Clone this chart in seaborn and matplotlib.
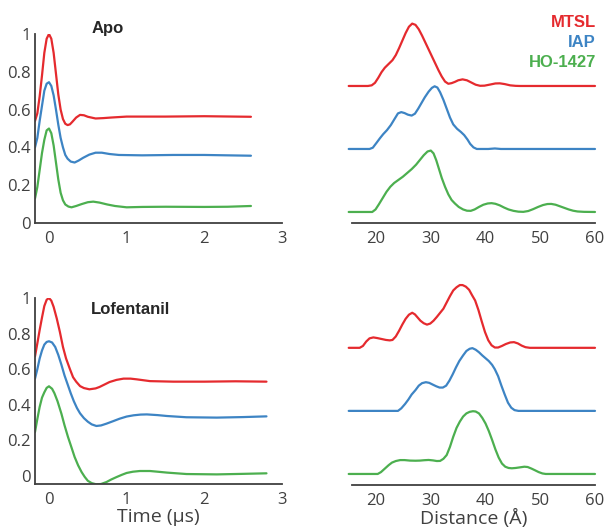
"""
DEER traces and distance distributions for three spin labels,
apo vs lofentanil-bound receptor.

Run:
    python plot.py
"""

import matplotlib.pyplot as plt
import seaborn as sns

# -----------------------------
# Data
# -----------------------------
LABELS = ["MTSL", "IAP", "HO-1427"]
COLORS = ["#e52a2e", "#3d84c4", "#4caf4f"]

# Apo, time domain (us, normalised echo)
APO_MTSL_T = [-0.18, -0.15, -0.12, -0.09, -0.06, -0.03, 0.0, 0.03, 0.06, 0.09, 0.12, 0.15,
              0.18, 0.21, 0.24, 0.27, 0.3, 0.35, 0.4, 0.45, 0.5, 0.6, 0.7, 0.8, 1.0, 1.5, 2.0, 2.6]
APO_MTSL_V = [0.54, 0.58, 0.67, 0.78, 0.9, 0.975, 1.0, 0.975, 0.9, 0.79, 0.68, 0.6,
              0.55, 0.525, 0.518, 0.522, 0.535, 0.558, 0.572, 0.57, 0.562, 0.553, 0.555, 0.558,
              0.563, 0.563, 0.565, 0.562]
APO_IAP_T = [-0.18, -0.15, -0.12, -0.09, -0.06, -0.03, 0.0, 0.03, 0.06, 0.09, 0.12, 0.15, 0.18,
             0.21, 0.24, 0.28, 0.33, 0.38, 0.44, 0.52, 0.6, 0.68, 0.78, 0.9, 1.2, 1.6, 2.0, 2.6]
APO_IAP_V = [0.4, 0.45, 0.54, 0.62, 0.7, 0.737, 0.745, 0.725, 0.675, 0.6, 0.52, 0.45, 0.4,
             0.36, 0.34, 0.325, 0.32, 0.33, 0.345, 0.362, 0.372, 0.372, 0.365, 0.36, 0.358,
             0.36, 0.36, 0.356]
APO_HO_T = [-0.18, -0.15, -0.12, -0.09, -0.06, -0.03, 0.0, 0.03, 0.06, 0.09, 0.12, 0.15, 0.18,
            0.21, 0.25, 0.29, 0.35, 0.42, 0.5, 0.57, 0.65, 0.75, 0.85, 1.0, 1.2, 1.5, 2.0, 2.3, 2.6]
APO_HO_V = [0.13, 0.19, 0.28, 0.37, 0.44, 0.49, 0.5, 0.475, 0.41, 0.32, 0.23, 0.16, 0.12,
            0.098, 0.087, 0.083, 0.09, 0.1, 0.11, 0.113, 0.108, 0.098, 0.09, 0.083, 0.085,
            0.086, 0.085, 0.086, 0.09]

# Lofentanil, time domain
LOF_MTSL_T = [-0.18, -0.15, -0.12, -0.09, -0.06, -0.03, 0.0, 0.03, 0.06, 0.1, 0.14, 0.18, 0.22,
              0.27, 0.31, 0.35, 0.4, 0.45, 0.52, 0.6, 0.65, 0.72, 0.78, 0.87, 0.96, 1.05, 1.13,
              1.3, 1.6, 2.0, 2.4, 2.8]
LOF_MTSL_V = [0.672, 0.745, 0.82, 0.89, 0.955, 0.99, 1.0, 0.985, 0.95, 0.885, 0.81, 0.725, 0.66,
              0.6, 0.555, 0.53, 0.505, 0.494, 0.487, 0.492, 0.5, 0.515, 0.528, 0.54, 0.547,
              0.547, 0.543, 0.533, 0.53, 0.53, 0.532, 0.53]
LOF_IAP_T = [-0.18, -0.15, -0.12, -0.09, -0.06, -0.03, 0.0, 0.04, 0.08, 0.12, 0.16, 0.2, 0.24,
             0.28, 0.32, 0.36, 0.4, 0.45, 0.5, 0.55, 0.61, 0.67, 0.74, 0.82, 0.91, 1.0, 1.09,
             1.18, 1.26, 1.4, 1.52, 1.77, 2.16, 2.5, 2.8]
LOF_IAP_V = [0.547, 0.6, 0.66, 0.705, 0.738, 0.753, 0.757, 0.75, 0.725, 0.68, 0.625, 0.565,
             0.515, 0.465, 0.42, 0.382, 0.352, 0.325, 0.305, 0.29, 0.281, 0.284, 0.294, 0.307,
             0.322, 0.334, 0.341, 0.345, 0.346, 0.342, 0.337, 0.33, 0.328, 0.331, 0.335]
LOF_HO_T = [-0.18, -0.15, -0.12, -0.09, -0.06, -0.03, 0.0, 0.04, 0.07, 0.11, 0.16, 0.2, 0.245,
            0.29, 0.33, 0.375, 0.42, 0.46, 0.5, 0.55, 0.61, 0.67, 0.74, 0.8, 0.87, 0.94, 1.0,
            1.08, 1.17, 1.3, 1.4, 1.52, 1.77, 2.16, 2.5, 2.8]
LOF_HO_V = [0.247, 0.32, 0.388, 0.44, 0.47, 0.495, 0.504, 0.49, 0.465, 0.42, 0.35, 0.285,
            0.219, 0.16, 0.107, 0.06, 0.022, -0.005, -0.027, -0.04, -0.047, -0.045, -0.034,
            -0.02, -0.006, 0.007, 0.017, 0.024, 0.028, 0.028, 0.024, 0.019, 0.011, 0.009,
            0.012, 0.015]

# Apo, distance distributions (Angstrom, peak-normalised)
APO_MTSL_R = [15, 18.5, 19.2, 19.8, 20.4, 21.0, 21.6, 22.3, 23.0, 23.6, 24.2, 24.8, 25.4, 26.0,
              26.6, 27.2, 27.8, 28.4, 29.0, 29.6, 30.2, 30.8, 31.4, 32.0, 32.6, 33.2, 33.8,
              34.4, 35.0, 35.8, 36.6, 37.4, 38.2, 39.0, 39.8, 40.8, 41.8, 42.6, 43.5, 44.5,
              45.5, 46.3, 60]
APO_MTSL_P = [0, 0, 0.01, 0.05, 0.13, 0.22, 0.29, 0.35, 0.41, 0.49, 0.6, 0.72, 0.84, 0.94,
              0.99, 0.97, 0.9, 0.8, 0.69, 0.58, 0.47, 0.36, 0.25, 0.15, 0.07, 0.035, 0.045,
              0.065, 0.09, 0.105, 0.09, 0.055, 0.02, 0.003, 0.005, 0.022, 0.04, 0.042, 0.03,
              0.01, 0.002, 0, 0]
APO_IAP_R = [15, 18.8, 19.4, 20.1, 20.7, 21.3, 22.0, 22.7, 23.4, 24.0, 24.6, 25.2, 25.8, 26.5,
             27.1, 27.7, 28.3, 28.9, 29.6, 30.2, 30.7, 31.2, 31.7, 32.3, 32.9, 33.5, 34.1,
             34.8, 35.5, 36.1, 36.7, 37.2, 37.8, 38.4, 40.5, 41.7, 42.8, 60]
APO_IAP_P = [0, 0, 0.02, 0.1, 0.17, 0.235, 0.3, 0.38, 0.48, 0.565, 0.585, 0.57, 0.545, 0.53,
             0.56, 0.64, 0.73, 0.82, 0.91, 0.97, 0.995, 0.975, 0.9, 0.78, 0.64, 0.5, 0.39,
             0.32, 0.27, 0.22, 0.15, 0.08, 0.025, 0, 0, 0.008, 0, 0]
APO_HO_R = [15, 19.3, 19.9, 20.5, 21.2, 21.9, 22.6, 23.3, 24.1, 24.9, 25.7, 26.5, 27.3, 28.0,
            28.7, 29.4, 30.0, 30.5, 31.0, 31.5, 32.0, 32.6, 33.2, 33.8, 34.4, 35.1, 35.9, 36.6,
            37.3, 38.0, 38.8, 39.6, 40.4, 41.1, 41.8, 42.6, 43.4, 44.2, 45.1, 46.0, 46.9, 47.8,
            48.7, 49.6, 50.5, 51.3, 52.0, 52.8, 53.6, 54.4, 55.2, 56.0, 56.8, 58, 60]
APO_HO_P = [0, 0, 0.04, 0.12, 0.22, 0.32, 0.4, 0.46, 0.51, 0.56, 0.62, 0.68, 0.75, 0.825,
            0.9, 0.96, 0.975, 0.93, 0.82, 0.68, 0.54, 0.4, 0.28, 0.19, 0.135, 0.08, 0.04,
            0.02, 0.018, 0.04, 0.08, 0.115, 0.135, 0.14, 0.13, 0.105, 0.07, 0.04, 0.018,
            0.005, 0.002, 0.015, 0.045, 0.08, 0.11, 0.126, 0.128, 0.115, 0.09, 0.065, 0.04,
            0.02, 0.008, 0.002, 0]

# Lofentanil, distance distributions
LOF_MTSL_R = [15, 17.0, 17.6, 18.2, 18.8, 19.5, 20.2, 21.0, 21.8, 22.5, 23.0, 23.6, 24.2, 24.8,
              25.4, 26.0, 26.6, 27.1, 27.6, 28.1, 28.7, 29.3, 29.9, 30.5, 31.1, 31.7, 32.3,
              32.9, 33.5, 34.1, 34.7, 35.3, 35.8, 36.4, 37.0, 37.5, 38.1, 38.7, 39.3, 39.9,
              40.5, 41.1, 41.7, 42.3, 43.0, 43.7, 44.5, 45.2, 45.9, 46.6, 47.3, 48.1, 60]
LOF_MTSL_P = [0, 0, 0.03, 0.1, 0.15, 0.165, 0.155, 0.14, 0.125, 0.118, 0.125, 0.18, 0.27,
              0.37, 0.46, 0.525, 0.556, 0.53, 0.48, 0.43, 0.39, 0.368, 0.385, 0.43, 0.49,
              0.555, 0.62, 0.72, 0.82, 0.91, 0.96, 0.995, 0.995, 0.97, 0.92, 0.84, 0.75, 0.6,
              0.42, 0.25, 0.12, 0.04, 0.005, 0.005, 0.03, 0.06, 0.085, 0.09, 0.07, 0.035,
              0.01, 0, 0]
LOF_IAP_R = [15, 24.0, 24.6, 25.3, 25.9, 26.5, 27.2, 27.8, 28.4, 29.1, 29.7, 30.4, 31.0, 31.6,
             32.2, 32.8, 33.4, 34.0, 34.6, 35.2, 35.9, 36.5, 37.1, 37.6, 38.2, 38.8, 39.4,
             40.0, 40.6, 41.2, 41.7, 42.3, 42.9, 43.5, 44.1, 44.7, 45.3, 46.0, 60]
LOF_IAP_P = [0, 0, 0.04, 0.11, 0.18, 0.26, 0.33, 0.4, 0.44, 0.455, 0.445, 0.415, 0.39, 0.37,
             0.37, 0.4, 0.48, 0.58, 0.69, 0.79, 0.88, 0.95, 0.985, 0.995, 0.97, 0.93, 0.88,
             0.835, 0.79, 0.73, 0.66, 0.55, 0.4, 0.26, 0.13, 0.05, 0.012, 0, 0]
LOF_HO_R = [15, 20.3, 20.9, 21.6, 22.3, 22.9, 23.6, 24.4, 25.2, 26.2, 27.2, 28.0, 28.8, 29.6,
            30.4, 31.1, 31.7, 32.3, 32.9, 33.5, 34.1, 34.7, 35.3, 35.9, 36.5, 37.1, 37.7,
            38.2, 38.8, 39.4, 40.0, 40.6, 41.2, 41.8, 42.4, 43.0, 43.6, 44.2, 44.8, 45.5,
            46.3, 47.1, 47.7, 48.4, 49.0, 49.7, 50.4, 51.0, 60]
LOF_HO_P = [0, 0, 0.03, 0.085, 0.14, 0.18, 0.205, 0.22, 0.22, 0.212, 0.21, 0.212, 0.218,
            0.222, 0.215, 0.205, 0.207, 0.24, 0.3, 0.43, 0.59, 0.73, 0.83, 0.91, 0.96, 0.985,
            0.995, 0.99, 0.96, 0.89, 0.8, 0.68, 0.54, 0.39, 0.26, 0.165, 0.115, 0.095, 0.09,
            0.095, 0.105, 0.115, 0.11, 0.085, 0.06, 0.03, 0.008, 0, 0]

Y_TICKS = [0, 0.2, 0.4, 0.6, 0.8, 1]
Y_TICK_LABELS = ["0", "0.2", "0.4", "0.6", "0.8", "1"]
T_TICKS = [0, 1, 2, 3]
R_TICKS = [20, 30, 40, 50, 60]

# -----------------------------
# Style
# -----------------------------
sns.set_theme(style="white")
plt.rcParams["font.family"] = ["Open Sans", "DejaVu Sans"]

W, H = 608, 531
AXIS_GREY = "#404040"
LW = 1.6


def px_axes(fig, x0, x1, ytop, ybot):
    """Add axes from pixel box (origin top-left)."""
    return fig.add_axes([x0 / W, 1 - ybot / H, (x1 - x0) / W, (ybot - ytop) / H])


def style_axes(ax, keep_left=True):
    sns.despine(ax=ax, left=not keep_left)
    for side in ["left", "bottom"]:
        ax.spines[side].set_color(AXIS_GREY)
        ax.spines[side].set_linewidth(1.3)
    ax.tick_params(direction="in", length=4, width=1, colors=AXIS_GREY, labelsize=12)
    ax.tick_params(axis="x", pad=6)
    ax.tick_params(axis="y", pad=3)
    if not keep_left:
        ax.set_yticks([])


def time_panel(ax, traces, ylim):
    for (t, v), color in zip(traces, COLORS):
        sns.lineplot(x=t, y=v, ax=ax, color=color, lw=LW, estimator=None, sort=False)
    ax.set_xlim(-0.18, 3)
    ax.set_ylim(*ylim)
    ax.set_xticks(T_TICKS)
    ax.set_yticks(Y_TICKS)
    ax.set_yticklabels(Y_TICK_LABELS)
    ax.set_xlabel("")
    ax.set_ylabel("")
    style_axes(ax)


def distance_panel(ax, dists, ylim):
    # stack green at bottom, blue in the middle, red on top
    offsets = [2, 1, 0]
    for (r, p), color, off in zip(dists, COLORS, offsets):
        sns.lineplot(x=r, y=[val + off for val in p], ax=ax, color=color, lw=LW,
                     estimator=None, sort=False, clip_on=False)
    ax.set_xlim(15.6, 60)
    ax.set_ylim(*ylim)
    ax.set_xticks(R_TICKS)
    ax.set_xlabel("")
    ax.set_ylabel("")
    style_axes(ax, keep_left=False)


def main():
    fig = plt.figure(figsize=(W / 100, H / 100), dpi=100)

    ax_apo_t = px_axes(fig, 35, 282, 34, 223)
    ax_apo_r = px_axes(fig, 352, 595, 34, 223)
    ax_lof_t = px_axes(fig, 35, 282, 298, 484)
    ax_lof_r = px_axes(fig, 352, 595, 298, 485)

    time_panel(ax_apo_t, [(APO_MTSL_T, APO_MTSL_V), (APO_IAP_T, APO_IAP_V),
                          (APO_HO_T, APO_HO_V)], (0, 1.0))
    time_panel(ax_lof_t, [(LOF_MTSL_T, LOF_MTSL_V), (LOF_IAP_T, LOF_IAP_V),
                          (LOF_HO_T, LOF_HO_V)], (-0.045, 1.0))
    distance_panel(ax_apo_r, [(APO_MTSL_R, APO_MTSL_P), (APO_IAP_R, APO_IAP_P),
                              (APO_HO_R, APO_HO_P)], (-0.175, 2.825))
    distance_panel(ax_lof_r, [(LOF_MTSL_R, LOF_MTSL_P), (LOF_IAP_R, LOF_IAP_P),
                              (LOF_HO_R, LOF_HO_P)], (-0.175, 2.79))

    ax_lof_t.set_xlabel("Time (μs)", fontsize=14, color=AXIS_GREY, labelpad=0)
    ax_lof_r.set_xlabel("Distance (Å)", fontsize=14, color=AXIS_GREY, labelpad=0)

    bold = dict(family=["Liberation Sans", "DejaVu Sans"], weight="bold")
    fig.text(108 / W, 1 - 29 / H, "Apo", ha="center", va="center", size=12, **bold)
    fig.text(130 / W, 1 - 309 / H, "Lofentanil", ha="center", va="center", size=12, **bold)

    for label, color, y in zip(LABELS, COLORS, [27, 47, 67]):
        fig.text(596 / W, 1 - y / H, label, ha="right", va="baseline", color=color,
                 size=12, **bold)

    fig.savefig("out.png", dpi=100)
    plt.close(fig)


if __name__ == "__main__":
    main()
